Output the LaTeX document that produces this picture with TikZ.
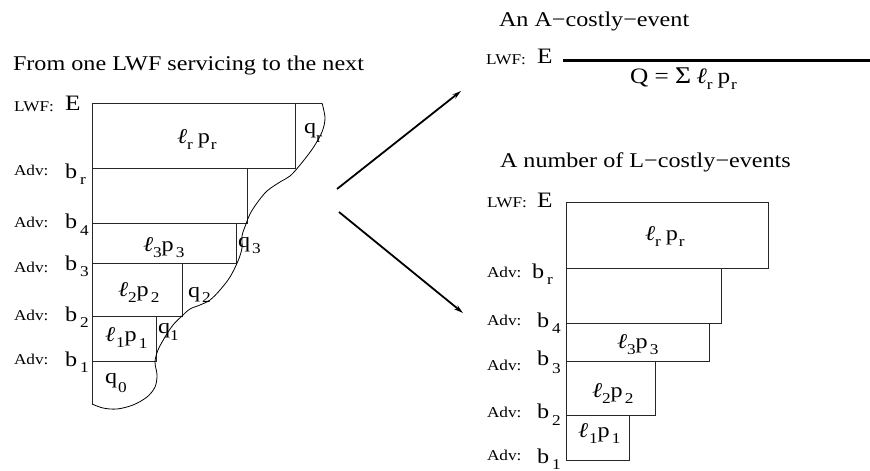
\documentclass[tikz,border=0pt]{standalone}
\usepackage{fontspec}
\setmainfont[FakeStretch=1.15]{Liberation Serif}
\usetikzlibrary{arrows.meta}
\newcommand\fsz[1]{\fontsize{#1}{#1}\selectfont}
\newcommand\sbs[2][6pt]{\lower#1\hbox{\fsz{15}#2}}
\newcommand\ellx{\textit{ℓ}}
\begin{document}
\begin{tikzpicture}[x=1pt,y=-1pt,
  txt/.style={anchor=base west, inner sep=0pt, outer sep=0pt},
  smalltxt/.style={txt, font=\fsz{15}},
  bigtxt/.style={txt, font=\fsz{21}},
  headtxt/.style={txt, font=\fsz{21}},
  etxt/.style={txt, font=\fsz{22}},
  boxline/.style={line width=1pt, black!85},
  curveline/.style={line width=0.8pt, black},
  bigarrow/.style={line width=1.8pt, -{Stealth[length=9pt,width=5pt]}},
  thickbar/.style={line width=3pt}]
\useasboundingbox (0,0) rectangle (870,471);

% ---------- titles ----------
\node[headtxt] (t1) at (13,70) {From one LWF servicing to the next};
\node[headtxt] (t2) at (499,26) {An A−costly−event};
\node[headtxt] (t3) at (500,167) {A number of L−costly−events};

% ---------- left diagram ----------
\draw[boxline] (92,404) -- (92,103) -- (322,103);
\draw[boxline] (295,103) -- (295,168) -- (92,168);
\draw[boxline] (247,168) -- (247,223) -- (92,223);
\draw[boxline] (236,223) -- (236,263) -- (92,263);
\draw[boxline] (182,263) -- (182,316) -- (92,316);
\draw[boxline] (156,316) -- (156,361) -- (92,361);
\draw[curveline] plot[smooth, tension=0.55] coordinates {
  (322,103) (325,118) (322,132) (313,148) (300,165) (290,176) (280,182)
  (267,191) (257,203) (250,214) (246,224) (242,236) (242,248) (238,261)
  (230,277) (220,290) (210,300) (200,305) (190,309) (182,316) (173,325)
  (165,337) (158,350) (155,362) (157,375) (155,387) (147,397) (133,405)
  (117,409) (103,408) (92,404)};

\node[smalltxt] (lwfL) at (14,111) {LWF:};
\node[etxt] (eL) at (65,110) {E};
\node[smalltxt] (advLr) at (14,175) {Adv:};
\node[bigtxt] (bLr) at (65,178) {b\hspace{3pt}\sbs{r}};
\node[smalltxt] (advL4) at (14,227) {Adv:};
\node[bigtxt] (bL4) at (65,228) {b\hspace{3pt}\sbs[7pt]{4}};
\node[smalltxt] (advL3) at (14,272) {Adv:};
\node[bigtxt] (bL3) at (65,270) {b\hspace{3pt}\sbs{3}};
\node[smalltxt] (advL2) at (14,320) {Adv:};
\node[bigtxt] (bL2) at (65,321) {b\hspace{3pt}\sbs{2}};
\node[smalltxt] (advL1) at (14,364) {Adv:};
\node[bigtxt] (bL1) at (65,366) {b\hspace{3pt}\sbs{1}};

\node[bigtxt] (cLr) at (177,143) {\ellx\sbs{r}\hspace{5pt}p\hspace{1pt}\sbs{r}};
\node[bigtxt] (qLr) at (304,133) {q\sbs[9pt]{r}};
\node[bigtxt] (cL3) at (143,251) {\ellx\sbs{3}p\hspace{2pt}\sbs{3}};
\node[bigtxt] (qL3) at (238,247) {q\hspace{2pt}\sbs[6pt]{3}};
\node[bigtxt] (cL2) at (118,296) {\ellx\sbs{2}p\hspace{2pt}\sbs{2}};
\node[bigtxt] (qL2) at (188,297) {q\hspace{2pt}\sbs[5pt]{2}};
\node[bigtxt] (cL1) at (105,341) {\ellx\hspace{1pt}\sbs{1}p\hspace{2pt}\sbs[7pt]{1}};
\node[bigtxt] (qL1) at (158,333) {q\sbs[7pt]{1}};
\node[bigtxt] (qL0) at (105,383) {q\hspace{1pt}\sbs[9pt]{0}};

% ---------- arrows ----------
\coordinate (a1s) at (337,189);
\coordinate (a1e) at (461,91);
\coordinate (a2s) at (339,212);
\coordinate (a2e) at (463,313);
\draw[bigarrow] (a1s) -- (a1e);
\draw[bigarrow] (a2s) -- (a2e);

% ---------- right top ----------
\node[smalltxt] (lwfA) at (486,64) {LWF:};
\node[etxt] (eA) at (537,63) {E};
\coordinate (barS) at (563,60);
\coordinate (barE) at (870,60);
\draw[thickbar] (barS) -- (barE);
\node[txt, font=\fsz{22}] (qsum) at (630,83) {Q = {\fsz{24}Σ}\hspace{5pt}\ellx\sbs{r}\hspace{5pt}p\hspace{1pt}\sbs{r}};

% ---------- right bottom ----------
\draw[boxline] (566,460) -- (566,202) -- (768,202) -- (768,268) -- (566,268);
\draw[boxline] (721,268) -- (721,323) -- (566,323);
\draw[boxline] (709,323) -- (709,361) -- (566,361);
\draw[boxline] (655,361) -- (655,415) -- (566,415);
\draw[boxline] (629,415) -- (629,460) -- (566,460);

\node[smalltxt] (lwfR) at (487,207) {LWF:};
\node[etxt] (eR) at (537,207) {E};
\node[smalltxt] (advRr) at (487,277) {Adv:};
\node[bigtxt] (bRr) at (532,278) {b\hspace{3pt}\sbs{r}};
\node[smalltxt] (advR4) at (487,325) {Adv:};
\node[bigtxt] (bR4) at (537,327) {b\hspace{3pt}\sbs[6pt]{4}};
\node[smalltxt] (advR3) at (487,370) {Adv:};
\node[bigtxt] (bR3) at (537,365) {b\hspace{3pt}\sbs[8pt]{3}};
\node[smalltxt] (advR2) at (487,417) {Adv:};
\node[bigtxt] (bR2) at (537,418) {b\hspace{3pt}\sbs[7pt]{2}};
\node[smalltxt] (advR1) at (487,460) {Adv:};
\node[bigtxt] (bR1) at (537,463) {b\hspace{3pt}\sbs[6pt]{1}};

\node[bigtxt] (cRr) at (645,240) {\ellx\sbs{r}\hspace{5pt}p\hspace{1pt}\sbs{r}};
\node[bigtxt] (cR3) at (617,348) {\ellx\sbs{3}p\hspace{2pt}\sbs{3}};
\node[bigtxt] (cR2) at (592,397) {\ellx\sbs{2}p\hspace{2pt}\sbs{2}};
\node[bigtxt] (cR1) at (578,437) {\ellx\hspace{1pt}\sbs{1}p\hspace{2pt}\sbs{1}};
\end{tikzpicture}
\end{document}
